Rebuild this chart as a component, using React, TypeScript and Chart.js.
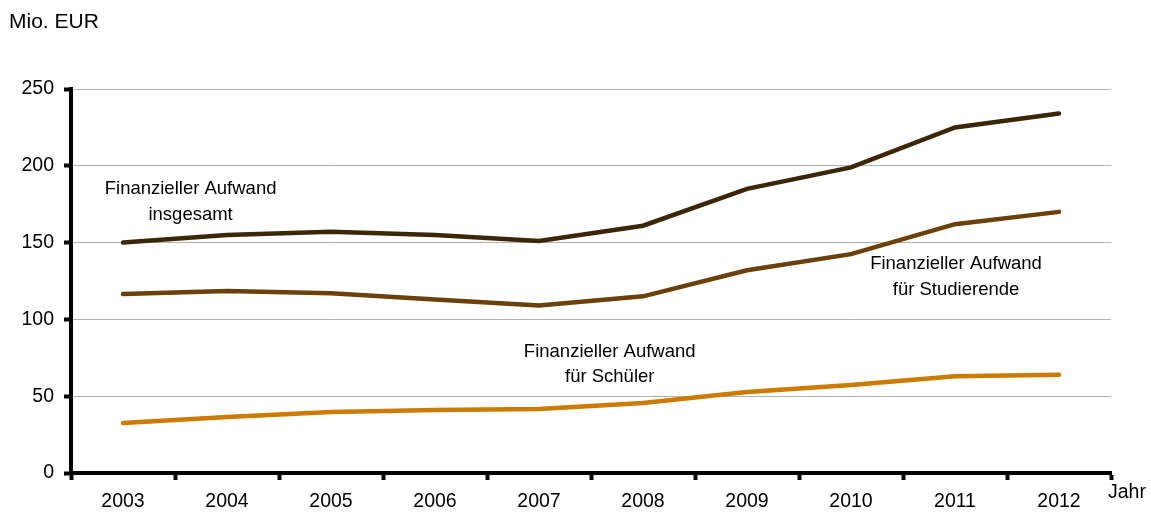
import React, { useEffect, useRef } from "react";
import { Chart, registerables } from "chart.js";

Chart.register(...registerables);

const years = ["2003", "2004", "2005", "2006", "2007", "2008", "2009", "2010", "2011", "2012"];
const insgesamt = [150, 155, 157, 155, 151, 161, 185, 199, 225, 234];
const studierende = [116.5, 118.5, 117, 113, 109, 115, 132, 142.5, 162, 170];
const schueler = [32.5, 36.5, 39.7, 41, 41.7, 45.6, 52.7, 57.3, 63, 64];
const yTicks = [0, 50, 100, 150, 200, 250];

const labelNotes = [
  { lines: ["Finanzieller Aufwand", "insgesamt"], x: 0.65, y: [185, 168] },
  { lines: ["Finanzieller Aufwand", "für Studierende"], x: 8.01, y: [136, 119] },
  { lines: ["Finanzieller Aufwand", "für Schüler"], x: 4.68, y: [78.8, 62.5] },
];

const FONT = '"Liberation Sans", Arial, sans-serif';

export default function App() {
  const ref = useRef<HTMLCanvasElement | null>(null);
  useEffect(() => {
    if (!ref.current) return;
    const notesPlugin = {
      id: "notes",
      afterDraw(chart: any) {
        const ctx = chart.ctx;
        const xs = chart.scales.x;
        const ys = chart.scales.y;
        ctx.save();
        ctx.fillStyle = "#000";
        ctx.font = `18.5px ${FONT}`;
        ctx.textAlign = "center";
        ctx.textBaseline = "middle";
        for (const n of labelNotes) {
          const px = xs.getPixelForDecimal((n.x + 0.5) / years.length);
          n.lines.forEach((t, i) => ctx.fillText(t, px, ys.getPixelForValue(n.y[i])));
        }
        ctx.textAlign = "left";
        ctx.font = `21px ${FONT}`;
        ctx.fillText("Mio. EUR", 9, 22);
        ctx.font = `19.5px ${FONT}`;
        ctx.fillText("Jahr", xs.right - 3, 493);
        ctx.restore();
      },
    };
    const chart = new Chart(ref.current, {
      type: "line",
      data: {
        labels: years,
        datasets: [
          { data: insgesamt, borderColor: "#3b2608", borderWidth: 4.5, pointRadius: 0, tension: 0, borderCapStyle: "round" },
          { data: studierende, borderColor: "#6b400b", borderWidth: 4.5, pointRadius: 0, tension: 0, borderCapStyle: "round" },
          { data: schueler, borderColor: "#cc7a00", borderWidth: 4.5, pointRadius: 0, tension: 0, borderCapStyle: "round" },
        ],
      },
      options: {
        animation: false,
        responsive: false,
        maintainAspectRatio: false,
        layout: { padding: { top: 89, right: 40, left: 0, bottom: 0 } },
        plugins: { legend: { display: false }, tooltip: { enabled: false } },
        scales: {
          x: {
            type: "category",
            offset: true,
            afterFit: (s: any) => { s.height = 40; },
            grid: {
              offset: true,
              drawOnChartArea: false,
              drawTicks: true,
              tickLength: 7,
              tickColor: "#000",
              tickWidth: 4,
            },
            border: { display: true, color: "#000", width: 4 },
            ticks: { color: "#000", font: { family: FONT, size: 19.5 }, padding: 10, maxRotation: 0 },
          },
          y: {
            min: 0,
            max: 250,
            afterFit: (s: any) => { s.width = 71; },
            afterBuildTicks: (s: any) => { s.ticks = yTicks.map((v) => ({ value: v })); },
            grid: {
              color: "#b3b3b3",
              lineWidth: 1,
              drawTicks: true,
              tickLength: 7,
              tickColor: "#000",
              tickWidth: 4,
            },
            border: { display: true, color: "#000", width: 4 },
            ticks: { color: "#000", font: { family: FONT, size: 19.5 }, padding: 10 },
          },
        },
      },
      plugins: [notesPlugin],
    });
    return () => chart.destroy();
  }, []);
  return (
    <div style={{ position: "absolute", left: 0, top: 0, width: 1151, height: 513, background: "#fff" }}>
      <canvas ref={ref} width={1151} height={513} style={{ width: 1151, height: 513 }} />
    </div>
  );
}
